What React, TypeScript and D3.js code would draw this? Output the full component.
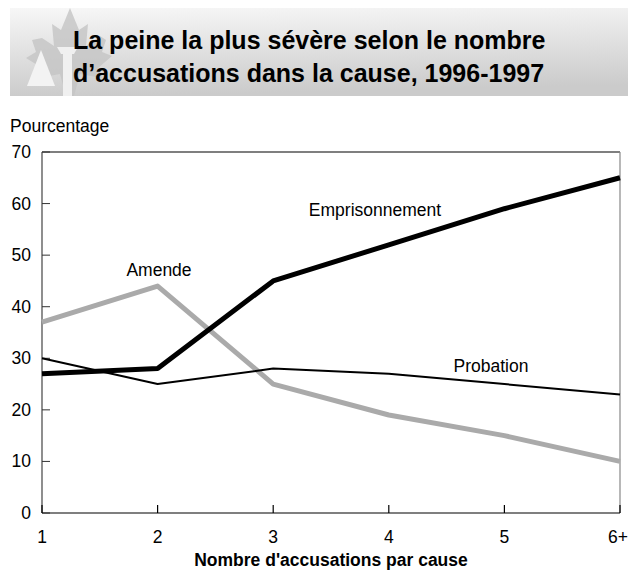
import React from "react";
import * as d3 from "d3";

const categories = ["1", "2", "3", "4", "5", "6+"];
const emprisonnement = [27, 28, 45, 52, 59, 65];
const amende = [37, 44, 25, 19, 15, 10];
const probation = [30, 25, 28, 27, 25, 23];
const yTicks = [0, 10, 20, 30, 40, 50, 60, 70];

const W = 628, H = 570;
const M = { left: 42, right: 620, top: 152, bottom: 513 };
const FONT = "'Liberation Sans', Arial, sans-serif";
const FS = 17.5;

export default function App() {
  const x = d3.scalePoint<string>().domain(categories).range([M.left, M.right]);
  const y = d3.scaleLinear().domain([0, 70]).range([M.bottom, M.top]);
  const line = d3
    .line<number>()
    .x((_, i) => x(categories[i]) as number)
    .y((d) => y(d));

  return (
    <svg width={W} height={H} style={{ position: "absolute", left: 0, top: 0 }}>
      <defs>
        <linearGradient id="hdr" x1="0" y1="0" x2="0.15" y2="1">
          <stop offset="0" stopColor="#f7f7f7" />
          <stop offset="1" stopColor="#cbcbcb" />
        </linearGradient>
      </defs>
      <rect width={W} height={H} fill="#fff" />
      <rect x={10} y={8} width={618} height={88} fill="url(#hdr)" />
      {/* maple leaf logo */}
      <g fill="#c4c4c4" opacity={0.8}>
        <path d="M70,8 L79,30 L88,24 L86,46 L100,36 L106,40 L102,52 L112,56 L98,68 L102,78 L80,74 L74,96 L66,96 L60,74 L38,78 L42,68 L26,58 L36,52 L32,40 L42,38 L54,46 L52,24 L61,30 Z" />
      </g>
      <path d="M41,50 L55,86 L27,86 Z" fill="#f3f3f3" />
      <rect x={63} y={52} width={9} height={44} fill="#f0f0f0" />
      <path d="M57,47 L78,47 L74,54 L61,54 Z" fill="#f0f0f0" />
      <text x={73} y={49} fontFamily={FONT} fontWeight="bold" fontSize={25} fill="#000">
        La peine la plus sévère selon le nombre
      </text>
      <text x={73} y={82} fontFamily={FONT} fontWeight="bold" fontSize={25} fill="#000">
        d’accusations dans la cause, 1996-1997
      </text>

      <text x={10} y={132} fontFamily={FONT} fontSize={FS} fill="#000">
        Pourcentage
      </text>

      {/* frame */}
      <line x1={M.left} x2={M.right} y1={M.top} y2={M.top} stroke="#000" strokeWidth={1.2} />
      <line x1={M.right} x2={M.right} y1={M.top} y2={M.bottom} stroke="#888" strokeWidth={1.2} />
      <line x1={M.left} x2={M.left} y1={M.top} y2={M.bottom} stroke="#444" strokeWidth={1.2} />
      <line x1={M.left} x2={M.right} y1={M.bottom} y2={M.bottom} stroke="#000" strokeWidth={1.2} />

      {yTicks.map((t) => (
        <g key={t}>
          <line x1={M.left} x2={M.left + 8} y1={y(t)} y2={y(t)} stroke="#333" strokeWidth={1} />
          <text x={31} y={y(t) + 6} textAnchor="end" fontFamily={FONT} fontSize={FS} fill="#000">
            {t}
          </text>
        </g>
      ))}
      {categories.map((c) => (
        <g key={c}>
          <line x1={x(c)} x2={x(c)} y1={M.bottom} y2={M.bottom - 8} stroke="#000" strokeWidth={1.2} />
          <text x={(x(c) as number) + (c === "6+" ? -2 : 0)} y={543} textAnchor="middle" fontFamily={FONT} fontSize={FS} fill="#000">
            {c}
          </text>
        </g>
      ))}

      <path d={line(amende) || ""} fill="none" stroke="#aaaaaa" strokeWidth={5} strokeLinejoin="round" />
      <path d={line(probation) || ""} fill="none" stroke="#000" strokeWidth={2} strokeLinejoin="round" />
      <path d={line(emprisonnement) || ""} fill="none" stroke="#000" strokeWidth={5} strokeLinejoin="round" />

      <text x={375} y={216} textAnchor="middle" fontFamily={FONT} fontSize={FS} fill="#000">
        Emprisonnement
      </text>
      <text x={159} y={276} textAnchor="middle" fontFamily={FONT} fontSize={FS} fill="#000">
        Amende
      </text>
      <text x={491} y={372} textAnchor="middle" fontFamily={FONT} fontSize={FS} fill="#000">
        Probation
      </text>

      <text x={331} y={566} textAnchor="middle" fontFamily={FONT} fontWeight="bold" fontSize={FS} fill="#000">
        Nombre d'accusations par cause
      </text>
    </svg>
  );
}
